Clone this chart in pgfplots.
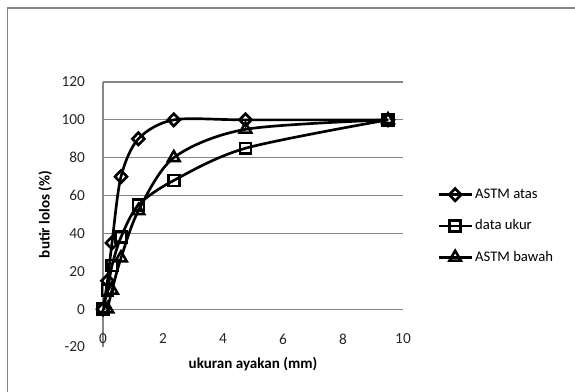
\documentclass[border=0pt]{standalone}
\usepackage{pgfplots}
\pgfplotsset{compat=1.18}
\usepackage{fontspec}
\setmainfont{Carlito}
\definecolor{gridgray}{RGB}{134,134,134}
\begin{document}
\begin{tikzpicture}
\useasboundingbox (0,0) rectangle (431.25pt,294pt);
\draw[gridgray, line width=1.2pt] (5.6pt,-10pt) -- (5.6pt,288pt) -- (445pt,288pt);
\begin{axis}[
  at={(77.25pt,33.75pt)}, anchor=south west,
  width=225pt, height=198.75pt, scale only axis,
  xmin=0, xmax=10, ymin=-20, ymax=120,
  xtick={0,2,...,10}, ytick={-20,0,20,...,120},
  axis lines*=left,
  x axis line style={draw=none},
  y axis line style={draw=gridgray, line width=0.8pt},
  major tick length=0pt,
  extra y ticks={0,40,60,80,100,120},
  extra y tick labels={},
  extra y tick style={grid=major, major grid style={draw=gridgray, line width=0.8pt}},
  /pgf/number format/assume math mode=true,
  tick label style={font=\fontsize{11.5}{13}\selectfont, text=black!85},
  yticklabel style={xshift=-10pt},
  xticklabel style={anchor=center, yshift=6pt},
  xlabel={\textbf{ukuran ayakan (mm)}},
  ylabel={\textbf{butir lolos (\%)}},
  label style={font=\fontsize{11.3}{13}\selectfont},
  xlabel style={at={(axis description cs:0.5,0)}, anchor=center, yshift=-13pt},
  ylabel style={at={(axis description cs:-0.193,0.5)}, anchor=center},
  legend cell align=left,
  legend style={at={(1.113,0.605)}, anchor=north west, draw=none, fill=none,
    font=\fontsize{11}{13}\selectfont, row sep=11.5pt, inner sep=0pt,
    nodes={inner sep=1.5pt}},
  legend image code/.code={
    \draw[mark repeat=2,mark phase=2,#1] plot coordinates {(0pt,0pt) (12.5pt,0pt) (25pt,0pt)};
  },
  ser/.style={black, line width=2pt, smooth, tension=0.5,
    mark options={fill=white, line width=1.9pt, solid}},
]
\addplot[ser, mark=diamond, mark size=4.6pt, mark options={xscale=1.3}] coordinates {
 (0,0) (0.15,15) (0.3,35) (0.6,70) (1.18,90) (2.36,100) (4.75,100) (9.5,100)};
\addlegendentry{ASTM atas}
\addplot[ser, mark=square, mark size=4.1pt] coordinates {
 (0,0) (0.15,10) (0.3,23) (0.6,38) (1.18,55) (2.36,68) (4.75,85) (9.5,100)};
\addlegendentry{data ukur}
\addplot[ser, mark=triangle, mark size=5pt] coordinates {
 (0.15,0) (0.3,10) (0.6,27) (1.18,52) (2.36,80) (4.75,95) (9.5,100)};
\addlegendentry{ASTM bawah}
\end{axis}
\end{tikzpicture}
\end{document}
